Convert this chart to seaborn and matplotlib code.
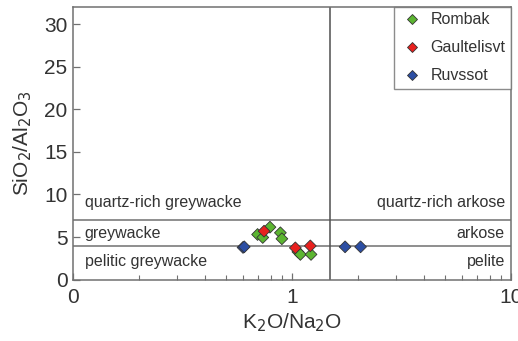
import matplotlib
matplotlib.use("Agg")
import matplotlib.pyplot as plt
import matplotlib.ticker as mticker
import numpy as np
import pandas as pd
import seaborn as sns

# K2O/Na2O and SiO2/Al2O3
rombak_x = [0.794, 0.697, 0.736, 0.886, 0.900, 1.065, 1.093, 1.223]
rombak_y = [6.16, 5.30, 4.95, 5.50, 4.80, 3.26, 2.96, 2.96]
gault_x = [0.746, 1.037, 1.214]
gault_y = [5.69, 3.73, 3.96]
ruvs_x = [0.598, 0.606, 1.75, 2.06]
ruvs_y = [3.78, 3.85, 3.85, 3.85]

groups = ["Rombak", "Gaultelisvt", "Ruvssot"]
colors = ["#5cb531", "#e8201e", "#2c4ea3"]

df = pd.DataFrame({
    "x": rombak_x + gault_x + ruvs_x,
    "y": rombak_y + gault_y + ruvs_y,
    "group": ["Rombak"] * len(rombak_x) + ["Gaultelisvt"] * len(gault_x) + ["Ruvssot"] * len(ruvs_x),
})

sns.set_style("white")
plt.rcParams["font.family"] = ["Liberation Sans", "DejaVu Sans"]

fig = plt.figure(figsize=(5.18, 3.41), dpi=100)
ax = fig.add_axes([0.141, 0.180, 0.845, 0.799])

line_c = "#707070"
tc = "#333333"
ax.axhline(7, color=line_c, lw=1.1, zorder=1)
ax.axhline(4, color=line_c, lw=1.1, zorder=1)
ax.axvline(1.5, color="#505050", lw=1.1, zorder=1)

sns.scatterplot(data=df, x="x", y="y", hue="group", hue_order=groups,
                palette=colors, marker="D", s=36, edgecolor="#333333",
                linewidth=0.6, ax=ax, zorder=3)

ax.set_xscale("log")
ax.set_xlim(0.1, 10)
ax.set_ylim(0, 32)
ax.xaxis.set_major_locator(mticker.FixedLocator([0.1, 1, 10]))
ax.xaxis.set_major_formatter(mticker.FixedFormatter(["0", "1", "10"]))
ax.xaxis.set_minor_locator(mticker.LogLocator(base=10, subs=np.arange(2, 10)))
ax.xaxis.set_minor_formatter(mticker.NullFormatter())
ax.set_yticks([0, 5, 10, 15, 20, 25, 30])

ax.tick_params(axis="both", which="major", direction="in", length=5, width=0.9,
               color=line_c, labelsize=15, labelcolor=tc, pad=4)
ax.tick_params(axis="x", which="major", pad=6)
ax.tick_params(axis="x", which="minor", direction="in", length=3.5, width=0.8, color=line_c)
ax.tick_params(axis="y", which="major", left=True)
ax.tick_params(axis="x", which="both", bottom=True)

for sp in ax.spines.values():
    sp.set_color(line_c)
    sp.set_linewidth(1.1)

ax.set_xlabel("K$_2$O/Na$_2$O", fontsize=15, color=tc, labelpad=3)
ax.set_ylabel("SiO$_2$/Al$_2$O$_3$", fontsize=15, color=tc, labelpad=7)

fs = 11.5
ax.text(0.113, 9.0, "quartz-rich greywacke", fontsize=fs, color=tc, va="center", ha="left")
ax.text(0.113, 5.45, "greywacke", fontsize=fs, color=tc, va="center", ha="left")
ax.text(0.113, 2.17, "pelitic greywacke", fontsize=fs, color=tc, va="center", ha="left")
ax.text(9.4, 9.0, "quartz-rich arkose", fontsize=fs, color=tc, va="center", ha="right")
ax.text(9.4, 5.45, "arkose", fontsize=fs, color=tc, va="center", ha="right")
ax.text(9.4, 2.17, "pelite", fontsize=fs, color=tc, va="center", ha="right")

leg = ax.legend(loc="upper right", bbox_to_anchor=(1.0, 1.0), borderaxespad=0,
                frameon=True, fancybox=False, fontsize=11.5, handletextpad=0.35,
                borderpad=0.32, labelspacing=0.82, handlelength=1.6, markerscale=0.8,
                title=None)
leg.get_frame().set_edgecolor(line_c)
leg.get_frame().set_linewidth(1.0)
for t in leg.get_texts():
    t.set_color(tc)

fig.savefig("out.png", dpi=100)
